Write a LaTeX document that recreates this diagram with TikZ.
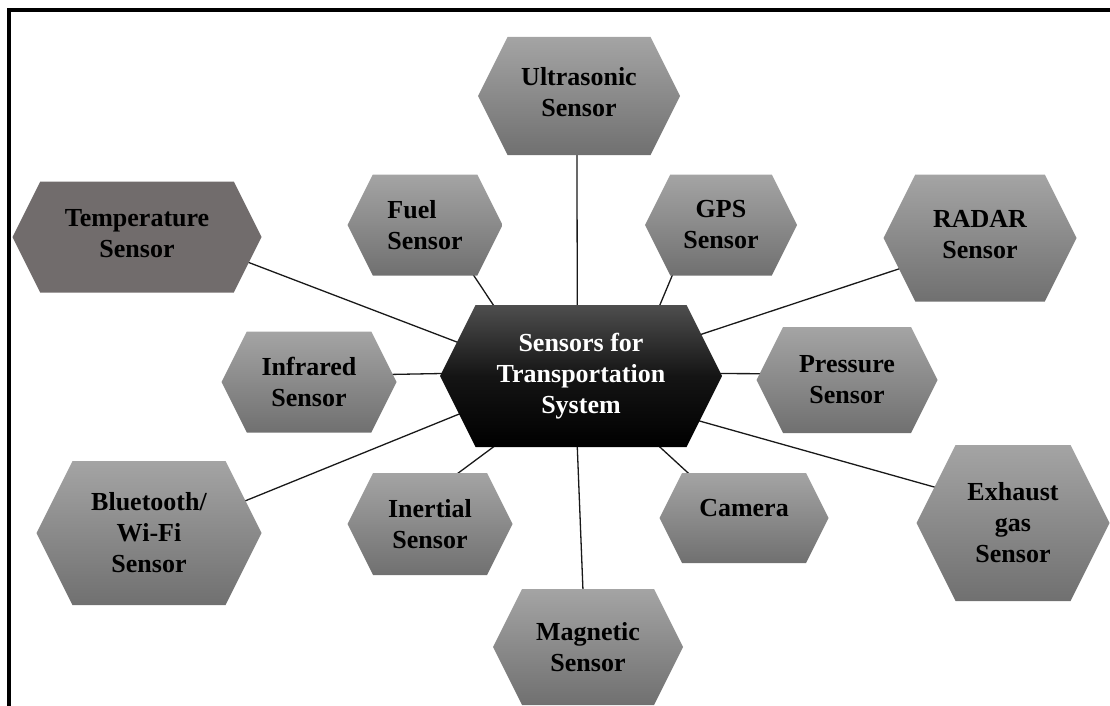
\documentclass[tikz,border=0pt]{standalone}
\usepackage{fontspec}
\setmainfont{Liberation Serif}
\usetikzlibrary{backgrounds}
\definecolor{hexlight}{RGB}{164,164,164}
\definecolor{hexdark}{RGB}{112,112,112}
\definecolor{tempfill}{RGB}{113,108,108}
\definecolor{ctrtop}{RGB}{78,78,78}
\definecolor{linkcol}{RGB}{25,25,25}
\tikzset{
  graybox/.style={top color=hexlight, bottom color=hexdark},
  tempbox/.style={fill=tempfill},
  ctrbox/.style={top color=ctrtop, bottom color=black, middle color=black!92!white},
  lbl/.style={inner sep=0pt, outer sep=0pt, align=center, font=\bfseries\fontsize{26}{31}\selectfont, text=black},
  link/.style={draw=linkcol, line width=1.3pt, shorten <=-30pt, shorten >=-30pt},
  frame/.style={line width=4pt, line join=miter},
}
\newcommand\hexnode[8][]{%
  \pgfmathsetmacro\hexhw{#5/2}\pgfmathsetmacro\hexhh{#6/2}\pgfmathsetmacro\hexin{#6/4}%
  \path[#7] (#3-\hexhw,#4) -- (#3-\hexhw+\hexin,#4-\hexhh) -- (#3+\hexhw-\hexin,#4-\hexhh) -- (#3+\hexhw,#4) -- (#3+\hexhw-\hexin,#4+\hexhh) -- (#3-\hexhw+\hexin,#4+\hexhh) -- cycle;
  \node[lbl, minimum width=#5, minimum height=#6, #1] (#2) at (#3,#4) {#8};
}
\begin{document}
\begin{tikzpicture}[x=1pt,y=-1pt]
\useasboundingbox (0,0) rectangle (1110,706);
\hexnode[text=white]{ctr}{581}{376}{282}{142}{ctrbox}{Sensors for\\Transportation\\System}
\hexnode[yshift=4pt]{ultra}{579}{96}{202}{118}{graybox}{Ultrasonic\\Sensor}
\hexnode[yshift=3pt]{temp}{137}{237}{249}{111}{tempbox}{Temperature\\Sensor}
\hexnode[align=left]{fuel}{425}{225}{155}{101}{graybox}{Fuel\\Sensor}
\hexnode{gps}{721}{225}{152}{101}{graybox}{GPS\\Sensor}
\hexnode[yshift=3pt]{radar}{980}{238}{193}{127}{graybox}{RADAR\\Sensor}
\hexnode{infra}{309}{382}{175}{101}{graybox}{Infrared\\Sensor}
\hexnode{press}{847}{380}{181}{106}{graybox}{Pressure\\Sensor}
\hexnode{blue}{149}{533}{225}{144}{graybox}{Bluetooth/\\Wi-Fi\\Sensor}
\hexnode{inert}{430}{524}{165}{102}{graybox}{Inertial\\Sensor}
\hexnode[yshift=10pt]{cam}{744}{518}{169}{90}{graybox}{Camera}
\hexnode{exh}{1013}{523}{193}{156}{graybox}{Exhaust\\gas\\Sensor}
\hexnode{mag}{588}{647}{190}{116}{graybox}{Magnetic\\Sensor}
\begin{pgfonlayer}{background}
\draw[link] (ultra.-92) -- (ctr.93);
\draw[link] (mag.95) -- (ctr.-93);
\draw[link] (temp.-15) -- (ctr.164.6);
\draw[link] (fuel.-46) -- (ctr.141);
\draw[link] (gps.-134) -- (ctr.42);
\draw[link] (radar.-158) -- (ctr.19);
\draw[link] (infra.5) -- (ctr.179);
\draw[link] (press.176) -- (ctr.1);
\draw[link] (blue.19) -- (ctr.-162);
\draw[link] (inert.61) -- (ctr.-141);
\draw[link] (cam.146) -- (ctr.-42);
\draw[link] (exh.157) -- (ctr.-20);
\end{pgfonlayer}
\draw[frame] (9,706) -- (9,10) -- (1110,10);
\end{tikzpicture}
\end{document}
